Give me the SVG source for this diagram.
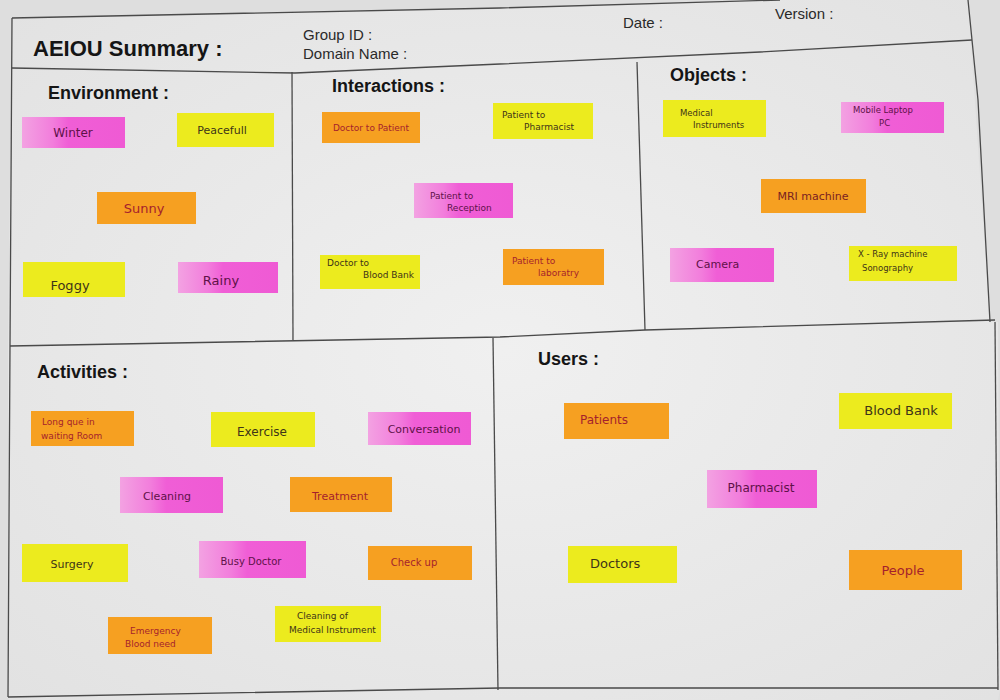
<svg xmlns="http://www.w3.org/2000/svg" width="1000" height="700" viewBox="0 0 1000 700">
<defs>
<linearGradient id="pinkGrad" x1="0" y1="0" x2="1" y2="0">
<stop offset="0" stop-color="#f3a2e2"/>
<stop offset="0.3" stop-color="#f27ddc"/>
<stop offset="0.45" stop-color="#f05ed6"/>
<stop offset="1" stop-color="#ef5ad4"/>
</linearGradient>
<radialGradient id="paper" cx="0.5" cy="0.5" r="0.7">
<stop offset="0" stop-color="#f0f0f0"/>
<stop offset="1" stop-color="#e2e2e2"/>
</radialGradient>
<style>
.line{fill:none;stroke:#4a4a4a;stroke-width:1.3;stroke-linejoin:round}
.head{font-family:"Liberation Sans",Arial,sans-serif;font-weight:bold;fill:#151515}
.meta{font-family:"Liberation Sans",Arial,sans-serif;font-size:15px;fill:#2a2a2a}
.y{fill:#eceb1e}
.o{fill:#f6a021}
.p{fill:url(#pinkGrad)}
.t{font-family:"DejaVu Sans",sans-serif;font-weight:normal}
.ty{fill:#3e3418}
.to{fill:#a51f2c}
.tp{fill:#5e1248}
.c{text-anchor:middle}
</style>
</defs>
<rect x="0" y="0" width="1000" height="700" fill="#dedede"/>
<path d="M12,18 L500,8 L780,0 L968,0 L990,322 L998,322 L1000,690 L998,700 L8,700 L8,346 Z" fill="url(#paper)"/>
<g id="frame">
<path class="line" d="M12,18 L500,8 L780,0"/>
<path class="line" d="M968,0 L978,100 L990,322"/>
<path class="line" d="M995,322 L998,690"/>
<path class="line" d="M12,68 L295,73 L500,64 L760,52 L972,40"/>
<path class="line" d="M12,18 L10,346 L8,697"/>
<path class="line" d="M292,72 L293,340"/>
<path class="line" d="M637,62 L645,330"/>
<path class="line" d="M10,346 L500,337 L645,330 L995,320"/>
<path class="line" d="M493,338 L498,690"/>
<path class="line" d="M8,697 L500,688 L998,688"/>
</g>
<g id="header">
<text class="head" x="33" y="56" font-size="22">AEIOU Summary :</text>
<text class="meta" x="303" y="40">Group ID :</text>
<text class="meta" x="303" y="59">Domain Name :</text>
<text class="meta" x="623" y="28">Date :</text>
<text class="meta" x="775" y="19">Version :</text>
</g>
<g id="environment">
<text class="head" x="48" y="99" font-size="18">Environment :</text>
<g id="env-winter"><rect class="p" x="22" y="117" width="103" height="31"/><text class="t tp c" x="73" y="137" font-size="12">Winter</text></g>
<g id="env-peacefull"><rect class="y" x="177" y="113" width="97" height="34"/><text class="t ty c" x="222" y="134" font-size="11">Peacefull</text></g>
<g id="env-sunny"><rect class="o" x="97" y="192" width="99" height="32"/><text class="t to c" x="144" y="213" font-size="13">Sunny</text></g>
<g id="env-foggy"><rect class="y" x="23" y="262" width="102" height="35"/><text class="t ty c" x="70" y="290" font-size="13">Foggy</text></g>
<g id="env-rainy"><rect class="p" x="178" y="262" width="100" height="31"/><text class="t tp c" x="221" y="285" font-size="13">Rainy</text></g>
</g>
<g id="interactions">
<text class="head" x="332" y="92" font-size="18">Interactions :</text>
<g id="int-doctor-patient"><rect class="o" x="322" y="112" width="98" height="31"/><text class="t to c" x="371" y="131" font-size="9">Doctor to Patient</text></g>
<g id="int-patient-pharmacist"><rect class="y" x="493" y="103" width="100" height="36"/><text class="t ty" x="502" y="118" font-size="9">Patient  to</text><text class="t ty" x="524" y="130" font-size="9">Pharmacist</text></g>
<g id="int-patient-reception"><rect class="p" x="414" y="183" width="99" height="35"/><text class="t tp" x="430" y="199" font-size="9">Patient  to</text><text class="t tp" x="447" y="211" font-size="9">Reception</text></g>
<g id="int-doctor-bloodbank"><rect class="y" x="320" y="255" width="100" height="34"/><text class="t ty" x="327" y="266" font-size="9">Doctor  to</text><text class="t ty" x="363" y="278" font-size="9">Blood Bank</text></g>
<g id="int-patient-lab"><rect class="o" x="503" y="249" width="101" height="36"/><text class="t to" x="512" y="264" font-size="9">Patient  to</text><text class="t to" x="538" y="276" font-size="9">laboratry</text></g>
</g>
<g id="objects">
<text class="head" x="670" y="81" font-size="18">Objects :</text>
<g id="obj-medical"><rect class="y" x="663" y="100" width="103" height="37"/><text class="t ty" x="680" y="116" font-size="8.5">Medical</text><text class="t ty" x="693" y="128" font-size="8.5">Instruments</text></g>
<g id="obj-mobile"><rect class="p" x="841" y="102" width="103" height="31"/><text class="t tp" x="853" y="113" font-size="8.5">Mobile  Laptop</text><text class="t tp" x="879" y="126" font-size="8.5">PC</text></g>
<g id="obj-mri"><rect class="o" x="761" y="179" width="105" height="34"/><text class="t c" x="813" y="200" font-size="11" fill="#7a1e22">MRI  machine</text></g>
<g id="obj-camera"><rect class="p" x="670" y="248" width="104" height="34"/><text class="t tp" x="696" y="268" font-size="11">Camera</text></g>
<g id="obj-xray"><rect class="y" x="849" y="246" width="108" height="35"/><text class="t ty" x="858" y="257" font-size="8.5">X - Ray  machine</text><text class="t ty" x="862" y="271" font-size="8.5">Sonography</text></g>
</g>
<g id="activities">
<text class="head" x="37" y="378" font-size="18">Activities :</text>
<g id="act-long-que"><rect class="o" x="31" y="411" width="103" height="35"/><text class="t to" x="42" y="425" font-size="9">Long  que  in</text><text class="t to" x="41" y="439" font-size="9">waiting  Room</text></g>
<g id="act-exercise"><rect class="y" x="211" y="412" width="104" height="35"/><text class="t ty c" x="262" y="436" font-size="12">Exercise</text></g>
<g id="act-conversation"><rect class="p" x="368" y="412" width="103" height="33"/><text class="t tp c" x="424" y="433" font-size="11">Conversation</text></g>
<g id="act-cleaning"><rect class="p" x="120" y="477" width="103" height="36"/><text class="t tp c" x="167" y="500" font-size="11">Cleaning</text></g>
<g id="act-treatment"><rect class="o" x="290" y="477" width="102" height="35"/><text class="t to c" x="340" y="500" font-size="11">Treatment</text></g>
<g id="act-surgery"><rect class="y" x="22" y="544" width="106" height="38"/><text class="t ty c" x="72" y="568" font-size="11">Surgery</text></g>
<g id="act-busy-doctor"><rect class="p" x="199" y="541" width="107" height="37"/><text class="t tp c" x="251" y="565" font-size="10">Busy  Doctor</text></g>
<g id="act-checkup"><rect class="o" x="368" y="546" width="104" height="34"/><text class="t to c" x="414" y="566" font-size="10">Check  up</text></g>
<g id="act-emergency"><rect class="o" x="108" y="617" width="104" height="37"/><text class="t to" x="130" y="634" font-size="9">Emergency</text><text class="t to" x="125" y="647" font-size="9">Blood  need</text></g>
<g id="act-cleaning-instrument"><rect class="y" x="275" y="606" width="106" height="36"/><text class="t ty" x="297" y="619" font-size="9">Cleaning  of</text><text class="t ty" x="289" y="633" font-size="9">Medical Instrument</text></g>
</g>
<g id="users">
<text class="head" x="538" y="365" font-size="18">Users :</text>
<g id="usr-patients"><rect class="o" x="564" y="403" width="105" height="36"/><text class="t to" x="580" y="424" font-size="12">Patients</text></g>
<g id="usr-bloodbank"><rect class="y" x="839" y="393" width="113" height="36"/><text class="t ty c" x="901" y="415" font-size="13">Blood Bank</text></g>
<g id="usr-pharmacist"><rect class="p" x="707" y="470" width="110" height="38"/><text class="t tp c" x="761" y="492" font-size="12">Pharmacist</text></g>
<g id="usr-doctors"><rect class="y" x="568" y="546" width="109" height="37"/><text class="t ty" x="590" y="568" font-size="13">Doctors</text></g>
<g id="usr-people"><rect class="o" x="849" y="550" width="113" height="40"/><text class="t to c" x="903" y="575" font-size="13">People</text></g>
</g>
</svg>
